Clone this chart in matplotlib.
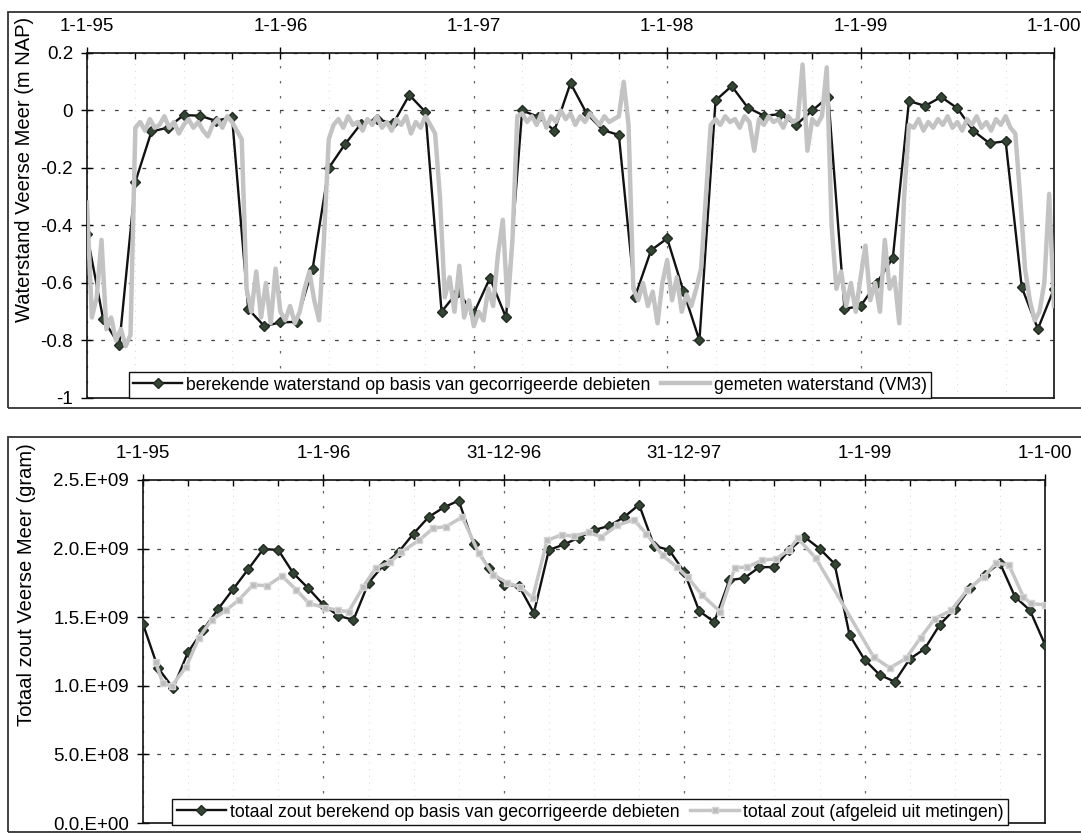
import numpy as np
import matplotlib.pyplot as plt
from matplotlib.ticker import FixedLocator, MultipleLocator

plt.rcParams['font.family'] = ['Liberation Sans', 'DejaVu Sans']

# ---- top panel: waterstand (m NAP) ----
# berekend, maandelijks vanaf 1-1-95
wl_calc = [-0.43, -0.725, -0.816, -0.248, -0.073, -0.06, -0.016, -0.018, -0.036, -0.023,
           -0.69, -0.75, -0.737, -0.735, -0.55, -0.20, -0.118, -0.046, -0.03, -0.045,
           0.054, -0.005, -0.70, -0.63, -0.705, -0.583, -0.72, 0.0, -0.022, -0.07,
           0.095, -0.01, -0.068, -0.085, -0.648, -0.486, -0.445, -0.627, -0.80, 0.035,
           0.085, 0.01, -0.018, -0.013, -0.05, 0.0, 0.047, -0.69, -0.68, -0.60,
           -0.513, 0.033, 0.016, 0.047, 0.008, -0.071, -0.114, -0.107, -0.615, -0.76, -0.62]

# gemeten (VM3), 40 waarden per jaar
g95 = [-0.32, -0.72, -0.65, -0.45, -0.76, -0.72, -0.80, -0.76, -0.82, -0.78,
       -0.06, -0.04, -0.07, -0.03, -0.06, -0.05, -0.02, -0.06, -0.04, -0.08,
       -0.05, -0.03, -0.06, -0.04, -0.07, -0.09, -0.05, -0.03, -0.06, -0.02,
       -0.04, -0.07, -0.10, -0.62, -0.70, -0.56, -0.72, -0.60, -0.74, -0.55]
g96 = [-0.70, -0.73, -0.68, -0.74, -0.70, -0.62, -0.56, -0.66, -0.73, -0.45,
       -0.10, -0.05, -0.03, -0.06, -0.02, -0.05, -0.04, -0.07, -0.03, -0.05,
       -0.02, -0.06, -0.04, -0.07, -0.03, -0.05, -0.02, -0.08, -0.04, -0.06,
       -0.02, -0.05, -0.08, -0.30, -0.65, -0.58, -0.70, -0.54, -0.72, -0.66]
g97 = [-0.75, -0.70, -0.73, -0.62, -0.68, -0.50, -0.38, -0.68, -0.45, -0.02,
       -0.01, -0.04, -0.02, -0.05, -0.01, -0.06, -0.02, -0.04, 0.00, -0.03,
       -0.01, -0.05, -0.02, -0.04, -0.01, -0.03, -0.05, -0.02, -0.04, -0.03,
       -0.02, 0.10, -0.05, -0.62, -0.66, -0.60, -0.68, -0.63, -0.74, -0.60]
g98 = [-0.52, -0.66, -0.58, -0.70, -0.64, -0.68, -0.62, -0.55, -0.30, -0.05,
       -0.03, -0.05, -0.02, -0.04, -0.03, -0.06, -0.02, -0.04, -0.14, -0.03,
       -0.05, -0.02, -0.04, -0.03, -0.06, -0.02, -0.04, -0.03, 0.16, -0.14,
       -0.03, -0.05, -0.02, 0.15, -0.40, -0.62, -0.56, -0.68, -0.60, -0.70]
g99 = [-0.58, -0.47, -0.66, -0.60, -0.70, -0.45, -0.62, -0.58, -0.74, -0.30,
       -0.05, -0.06, -0.03, -0.07, -0.04, -0.06, -0.03, -0.05, -0.02, -0.06,
       -0.04, -0.07, -0.03, -0.05, -0.02, -0.06, -0.04, -0.07, -0.03, -0.05,
       -0.02, -0.06, -0.08, -0.30, -0.55, -0.66, -0.73, -0.70, -0.60, -0.29, -0.68]
wl_meas = g95 + g96 + g97 + g98 + g99

# ---- bottom panel: totaal zout (gram) ----
salt_calc = [1.45, 1.13, 0.984, 1.246, 1.407, 1.56, 1.705, 1.85, 1.997, 1.99,
             1.82, 1.71, 1.59, 1.51, 1.48, 1.75, 1.88, 1.975, 2.11, 2.23,
             2.30, 2.35, 2.03, 1.86, 1.735, 1.73, 1.53, 1.99, 2.03, 2.08,
             2.135, 2.165, 2.23, 2.32, 2.02, 1.99, 1.83, 1.545, 1.465, 1.77,
             1.785, 1.865, 1.865, 1.99, 2.085, 2.0, 1.89, 1.37, 1.19, 1.08,
             1.03, 1.195, 1.27, 1.445, 1.56, 1.71, 1.81, 1.895, 1.65, 1.55, 1.30]
salt_meas_t = [1995.07, 1995.11, 1995.16, 1995.24, 1995.31, 1995.38, 1995.46, 1995.53,
               1995.61, 1995.69, 1995.77, 1995.85, 1995.92, 1996.01, 1996.08, 1996.14,
               1996.22, 1996.29, 1996.37, 1996.43, 1996.53, 1996.61, 1996.68, 1996.77,
               1996.86, 1996.94, 1997.02, 1997.09, 1997.16, 1997.24, 1997.32, 1997.39,
               1997.47, 1997.54, 1997.63, 1997.72, 1997.79, 1997.88, 1997.96, 1998.02,
               1998.10, 1998.20, 1998.28, 1998.35, 1998.43, 1998.51, 1998.58, 1998.63,
               1998.73, 1999.05, 1999.14, 1999.23, 1999.31, 1999.39, 1999.48, 1999.57,
               1999.66, 1999.73, 1999.80, 1999.88, 1999.92, 2000.0]
salt_meas = [1.17, 1.02, 1.00, 1.14, 1.35, 1.48, 1.55, 1.625,
             1.735, 1.73, 1.80, 1.70, 1.60, 1.57, 1.55, 1.54,
             1.72, 1.86, 1.90, 1.975, 2.06, 2.15, 2.16, 2.23,
             1.97, 1.81, 1.75, 1.72, 1.64, 2.06, 2.10, 2.09,
             2.12, 2.085, 2.17, 2.21, 2.11, 1.95, 1.865, 1.79,
             1.66, 1.54, 1.86, 1.865, 1.915, 1.925, 1.99, 2.075,
             1.93, 1.21, 1.13, 1.20, 1.35, 1.49, 1.55, 1.70,
             1.795, 1.895, 1.88, 1.65, 1.60, 1.59]

top_xlabels = ['1-1-95', '1-1-96', '1-1-97', '1-1-98', '1-1-99', '1-1-00']
bot_xlabels = ['1-1-95', '1-1-96', '31-12-96', '31-12-97', '1-1-99', '1-1-00']
top_yticks = [-1, -0.8, -0.6, -0.4, -0.2, 0, 0.2]
top_ylabels = ['-1', '-0.8', '-0.6', '-0.4', '-0.2', '0', '0.2']
bot_yticks = [0, 0.5e9, 1.0e9, 1.5e9, 2.0e9, 2.5e9]
bot_ylabels = ['0.0.E+00', '5.0.E+08', '1.0.E+09', '1.5.E+09', '2.0.E+09', '2.5.E+09']

t_month = 1995 + np.arange(len(wl_calc)) / 12.0
t_meas = 1995 + np.arange(len(wl_meas)) / 40.0
years = np.arange(1995, 2001)

W, H = 1081, 835
fig = plt.figure(figsize=(W / 100, H / 100), dpi=100)


def box(x0, y0, x1, y1):
    return [x0 / W, 1 - y1 / H, (x1 - x0) / W, (y1 - y0) / H]


ax1 = fig.add_axes(box(87, 53, 1054, 398))
ax2 = fig.add_axes(box(143, 480, 1045, 823))

diam = dict(marker='D', markersize=5.5, markerfacecolor='#354535', markeredgecolor='#222a22')

l1, = ax1.plot(t_month, wl_calc, color='#111111', lw=1.7, zorder=3, **diam,
               label='berekende waterstand op basis van gecorrigeerde debieten')
l2, = ax1.plot(t_meas, wl_meas, color='#c3c3c3', lw=3.2, zorder=4,
               label='gemeten waterstand (VM3)')

b1, = ax2.plot(t_month, np.array(salt_calc) * 1e9, color='#111111', lw=1.7, zorder=3, **diam,
               label='totaal zout berekend op basis van gecorrigeerde debieten')
b2, = ax2.plot(salt_meas_t, np.array(salt_meas) * 1e9, color='#c6c6c6', lw=2.5, zorder=4,
               marker='s', markersize=5, markerfacecolor='#bcbcbc', markeredgecolor='#d4d4d4',
               label='totaal zout (afgeleid uit metingen)')

for ax, xl, yt, yl in [(ax1, top_xlabels, top_yticks, top_ylabels),
                       (ax2, bot_xlabels, bot_yticks, bot_ylabels)]:
    ax.set_xlim(1995, 2000)
    ax.set_ylim(yt[0], yt[-1])
    ax.xaxis.tick_top()
    ax.xaxis.set_major_locator(FixedLocator(years))
    ax.set_xticklabels(xl)
    ax.xaxis.set_minor_locator(MultipleLocator(0.25))
    ax.set_yticks(yt)
    ax.set_yticklabels(yl)
    ax.tick_params(axis='x', which='major', direction='inout', length=8, width=1,
                   labelsize=13.5, pad=9)
    ax.tick_params(axis='x', which='minor', direction='in', length=4, width=1)
    ax.tick_params(axis='y', direction='inout', length=8, width=1, labelsize=13.5, pad=6)
    ax.grid(axis='y', which='major', color='#444444', lw=0.9, ls=(0, (3, 8)))
    ax.grid(axis='x', which='major', color='#666666', lw=0.9, ls=(0, (2, 10)))
    ax.grid(axis='x', which='minor', color='#dddddd', lw=0.8, ls=(0, (1, 5)))
    for s in ax.spines.values():
        s.set_linewidth(1.2)
        s.set_color('#111111')

leg_kw = dict(loc='lower center', ncol=2, fontsize=12.7, frameon=True, fancybox=False,
              edgecolor='#111111', borderaxespad=0, handlelength=2.8, handletextpad=0.2,
              columnspacing=0.6, borderpad=0.25, framealpha=1)
lg1 = ax1.legend(handles=[l1, l2], bbox_to_anchor=(0.458, 0.0), **leg_kw)
lg2 = ax2.legend(handles=[b1, b2], bbox_to_anchor=(0.4956, -0.006), **leg_kw)
for lg in (lg1, lg2):
    lg.get_frame().set_linewidth(1.0)
    lg.set_zorder(6)

fig.text(25 / W, 1 - 169 / H, 'Waterstand Veerse Meer (m NAP)', rotation=90,
         ha='center', va='center', fontsize=14.5)
fig.text(27 / W, 1 - 585 / H, 'Totaal zout Veerse Meer (gram)', rotation=90,
         ha='center', va='center', fontsize=14.5)

# omkadering van beide grafieken
for x0, y0, x1, y1 in [(8, 12, 1095, 408), (8, 437, 1095, 832)]:
    fig.add_artist(plt.Rectangle((x0 / W, 1 - y1 / H), (x1 - x0) / W, (y1 - y0) / H,
                                 transform=fig.transFigure, fill=False, lw=1.3,
                                 ec='#333333', clip_on=False))

fig.savefig('out.png', dpi=100)
